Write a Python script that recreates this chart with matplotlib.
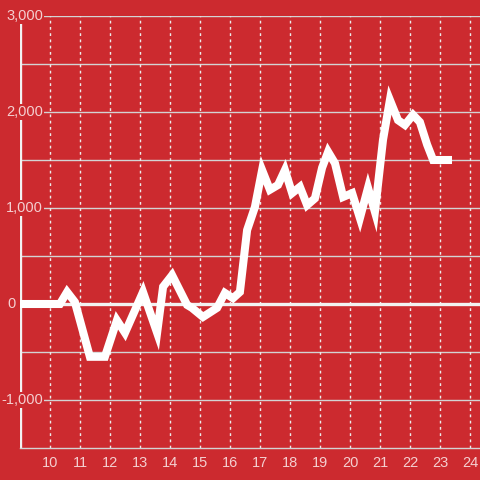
import matplotlib.pyplot as plt
from matplotlib.transforms import blended_transform_factory

# horas (decimal) y valor acumulado
horas = [9.0, 10.33, 10.57, 10.83, 11.33, 11.83, 12.23, 12.5, 13.1, 13.57,
         13.77, 14.07, 14.57, 14.73, 15.1, 15.57, 15.83, 16.1, 16.33, 16.57,
         16.83, 17.07, 17.33, 17.6, 17.83, 18.07, 18.33, 18.57, 18.83, 19.07,
         19.27, 19.5, 19.77, 20.07, 20.33, 20.6, 20.83, 21.1, 21.33, 21.6,
         21.83, 22.1, 22.33, 22.57, 22.77, 23.4]
valores = [0, 0, 125, 20, -550, -550, -170, -300, 125, -300,
           180, 300, -10, -40, -135, -40, 115, 60, 125, 770,
           1010, 1395, 1190, 1240, 1395, 1155, 1220, 1030, 1100, 1420,
           1585, 1465, 1115, 1155, 895, 1210, 960, 1710, 2125, 1915,
           1865, 1970, 1895, 1660, 1500, 1500]

x_ticks = list(range(10, 25))
y_ticks = [3000, 2000, 1000, 0, -1000]
y_minor = [2500, 1500, 500, -500]

fondo = "#cc2a2f"
texto = "#f4cfd0"

plt.rcParams['font.family'] = ['Liberation Sans', 'DejaVu Sans']

fig = plt.figure(figsize=(4.8, 4.8), dpi=100, facecolor=fondo)
ax = fig.add_axes([20 / 480, 32 / 480, 460 / 480, 432 / 480], facecolor=fondo)

ax.set_xlim(9, 24.333)
ax.set_ylim(-1500, 3000)

# rejilla
for y in y_ticks + y_minor:
    ax.axhline(y, color="#d3d3d3", lw=1, zorder=1)
for x in x_ticks:
    ax.axvline(x, color="#ececec", lw=1, ls=(0, (2, 2.5)), zorder=1)

ax.axhline(0, color="#f2f2f2", lw=2.4, zorder=2)
ax.axvline(9, ymax=(2920 + 1500) / 4500, color="#f2f2f2", lw=2.4, zorder=2)

ax.plot(horas, valores, color="white", lw=5.8, solid_joinstyle="miter",
        solid_capstyle="butt", zorder=4)

for s in ["left", "right", "top"]:
    ax.spines[s].set_visible(False)
ax.spines["bottom"].set_color("#d3d3d3")
ax.spines["bottom"].set_linewidth(1)

ax.set_xticks(x_ticks)
ax.set_xticklabels([str(t) for t in x_ticks])
ax.tick_params(axis="x", length=0, pad=6, labelsize=10.5, labelcolor=texto)
ax.set_yticks([])

# etiquetas del eje y (el 0 queda a la izquierda, como en el original)
trans = blended_transform_factory(fig.transFigure, ax.transData)
for y in y_ticks:
    xpos = 16 / 480 if y == 0 else 43 / 480
    ax.text(xpos, y, f"{y:,}", transform=trans, ha="right", va="center",
            fontsize=10.5, color=texto, zorder=3,
            bbox=dict(facecolor=fondo, edgecolor="none", pad=1))

fig.savefig("out.png", dpi=100, facecolor=fondo)
